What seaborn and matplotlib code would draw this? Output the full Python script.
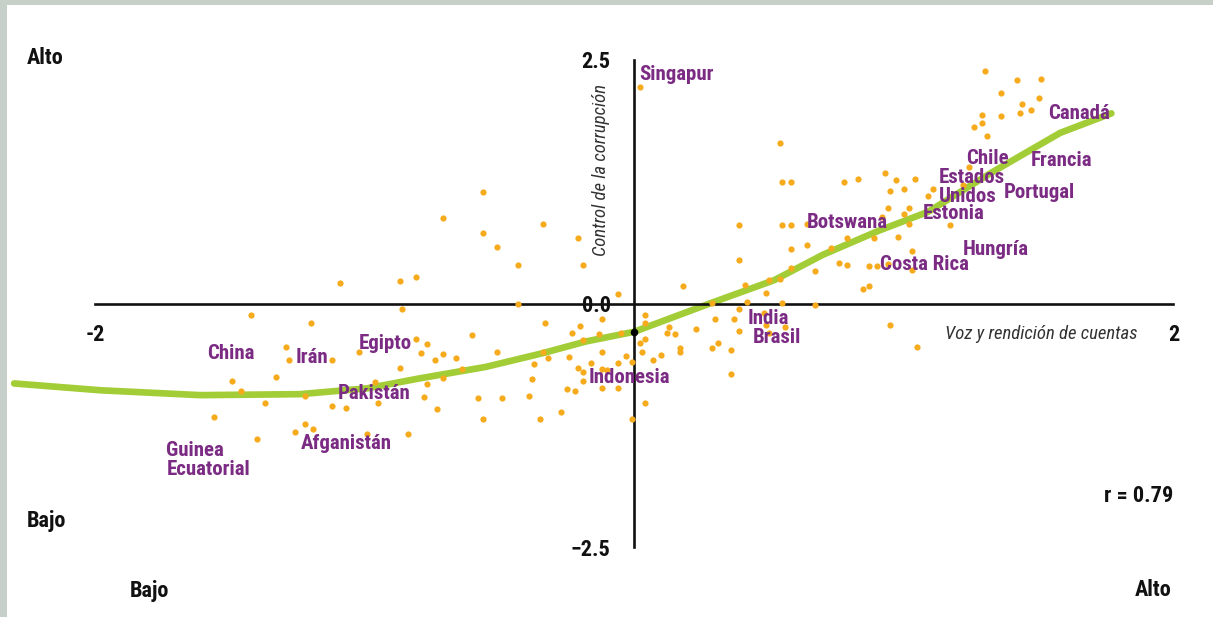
import matplotlib
matplotlib.use("Agg")
import matplotlib.pyplot as plt
from matplotlib import font_manager as fm
import pandas as pd
import seaborn as sns

# Voz y rendición de cuentas (x) frente a control de la corrupción (y), por país
voz = [
    -1.42, -1.20, -0.86, -1.29, -1.28, -1.12, -1.02, -0.81, -0.77, -0.79,
    -0.87, -1.49, -1.46, -1.33, -1.22, -1.37, -1.12, -1.07, -0.96, -0.95,
    -0.77, -0.78, -1.56, -1.22, -1.19, -1.26, -1.40, -0.99, -0.84,
    -1.09, -0.87, -0.81, -0.71, -0.56, -0.56, -0.51, -0.43, -0.34, -0.21,
    -0.19, -0.06, -0.43,
    -0.74, -0.71, -0.66, -0.60, -0.64, -0.71, -0.73, -0.58, -0.56, -0.49,
    -0.51, -0.33, -0.34, -0.32, -0.37, -0.38, -0.39, -0.35, -0.27, -0.25,
    -0.22, -0.24, -0.20, -0.23, -0.19, -0.12, -0.13, -0.12, -0.21, -0.19,
    -0.16, -0.12, -0.10, -0.19, -0.12, -0.06, -0.06, -0.05, -0.03, -0.01,
    -0.01, 0.04, 0.04, 0.02, 0.04, 0.03, 0.07, 0.04, 0.10,
    0.13, 0.12, 0.15, 0.17, 0.17, 0.23, 0.29, 0.31, 0.30, 0.36,
    0.36, 0.37, 0.39, 0.39, 0.42, 0.49, 0.50, 0.55, 0.67, 0.29,
    0.48, 0.56,
    0.54, 0.55, 0.58, 0.78, 0.83, 0.39, 0.55, 0.58, 0.64, 0.79,
    0.89, 0.39, 0.58, 0.64, 0.73, 0.76, 0.79, 0.87, 0.90, 0.58,
    0.67, 0.50, 0.54, 0.41, 0.18, 0.49, 0.85, 0.87,
    1.30, 1.42, 1.51, 1.36, 1.44, 1.50, 1.47, 1.43, 1.36, 1.29,
    1.29, 1.26, 1.31, 0.93, 0.97, 1.04, 0.95, 1.00, 1.11, 1.09,
    1.24, 1.22, 0.94, 1.00, 1.02, 1.02, 0.92, 0.98, 1.17, 1.03,
    1.03, 0.94, 0.95, 1.05, 0.02,
]
control = [
    -0.12, -0.20, -0.06, -0.45, -0.58, -0.58, -0.50, -0.36, -0.42, -0.51,
    -0.66, -0.79, -0.90, -0.75, -0.95, -1.02, -1.05, -1.07, -0.81, -1.02,
    -0.83, -0.96, -1.16, -1.24, -1.29, -1.32, -1.39, -1.34, -1.34,
    0.21, 0.23, 0.27, 0.88, 1.14, 0.72, 0.58, 0.39, 0.82, 0.67,
    0.39, 0.10, -0.01,
    -0.58, -0.52, -0.56, -0.32, -0.67, -0.76, -1.08, -0.97, -1.18, -0.97,
    -0.50, -0.20, -0.50, -0.56, -0.62, -0.77, -0.95, -1.18, -1.11, -0.88,
    -0.90, -0.55, -0.23, -0.30, -0.37, -0.16, -0.31, -0.50, -0.66, -0.70,
    -0.61, -0.67, -0.68, -0.79, -0.87, -0.87, -0.61, -0.30, -0.54, -0.60,
    -1.18, -0.12, -0.20, -0.40, -0.36, -0.50, -0.58, -1.02, -0.53,
    -0.24, -0.30, -0.31, -0.46, -0.50, -0.26, -0.46, -0.40, -0.16, -0.48,
    -0.72, -0.16, -0.28, -0.06, 0.02, -0.22, -0.30, 0.01, -0.02, 0.01,
    -0.10, -0.24,
    1.65, 1.25, 1.25, 1.25, 1.28, 0.81, 0.81, 0.81, 0.82, 0.67,
    0.67, 0.45, 0.56, 0.60, 0.57, 0.42, 0.39, 0.38, 0.38, 0.36,
    0.33, 0.24, 0.25, 0.19, 0.18, 0.11, 0.15, 0.18,
    2.38, 2.29, 2.30, 2.16, 2.05, 2.11, 1.98, 1.95, 1.92, 1.93,
    1.85, 1.81, 1.72, 1.34, 1.27, 1.28, 1.15, 1.17, 1.17, 1.10,
    1.40, 1.22, 0.98, 0.92, 0.98, 0.82, 0.89, 0.68, 0.81, 0.54,
    0.34, 0.41, -0.22, -0.45, 2.22,
]

# Curva de ajuste
curva_x = [-2.30, -1.98, -1.61, -1.24, -0.99, -0.80, -0.55, -0.34, -0.18,
           0.00, 0.29, 0.52, 0.70, 0.91, 1.09, 1.33, 1.58, 1.77]
curva_y = [-0.82, -0.89, -0.94, -0.93, -0.87, -0.77, -0.65, -0.51, -0.39,
           -0.29, 0.01, 0.24, 0.50, 0.75, 0.94, 1.35, 1.75, 1.95]

# Promedio marcado sobre el eje vertical
promedio_x = [0.0]
promedio_y = [-0.29]

# Países destacados (posición del rótulo)
paises = ["Singapur", "Canadá", "Chile", "Francia", "Estados\nUnidos", "Portugal",
          "Estonia", "Botswana", "Hungría", "Costa Rica", "India", "Brasil",
          "Indonesia", "China", "Irán", "Egipto", "Pakistán", "Afganistán",
          "Guinea\nEcuatorial"]
pais_x = [0.02, 1.535, 1.23, 1.47, 1.13, 1.37, 1.07, 0.64, 1.22, 0.91, 0.42, 0.44,
          -0.17, -1.585, -1.255, -1.02, -1.10, -1.235, -1.735]
pais_y = [2.35, 1.95, 1.49, 1.47, 1.195, 1.14, 0.92, 0.83, 0.55, 0.395, -0.15, -0.35,
          -0.76, -0.51, -0.55, -0.415, -0.92, -1.44, -1.61]

x_ticks = [-2, 2]
x_ticklabels = ["-2", "2"]
y_ticks = [-2.5, 0.0, 2.5]
y_ticklabels = ["\u22122.5", "0.0", "2.5"]

PURPLE = "#7b2b83"
ORANGE = "#f6ab1c"
GREEN = "#a3cd36"
FRAME = "#c6d0c9"
INK = "#111111"


def installed(name):
    try:
        fm.findfont(fm.FontProperties(family=name), fallback_to_default=False)
        return True
    except ValueError:
        return False


# Narrow faces first; wider faces get a smaller size so the words keep their length
family, k = "DejaVu Sans", 0.80
for name, scale in [("Roboto Condensed", 1.0), ("Liberation Sans Narrow", 1.0),
                    ("Open Sans Condensed", 1.0), ("DejaVu Sans Condensed", 0.90),
                    ("Roboto", 0.88), ("Liberation Sans", 0.86)]:
    if installed(name):
        family, k = name, scale
        break

sns.set_theme(style="white")
plt.rcParams["font.family"] = [family, "DejaVu Sans"]

W, H = 1213, 617
fig = plt.figure(figsize=(W / 100, H / 100), dpi=100, facecolor=FRAME)
ax = fig.add_axes([7 / W, 0, 1 - 7 / W, 1 - 5 / H])
ax.set_facecolor("white")

sx, x0 = 269.6, 634.2
sy, y0 = 97.5, 303.5
ax.set_xlim((7 - x0) / sx, (W - x0) / sx)
ax.set_ylim((y0 - H) / sy, (y0 - 5) / sy)

df_curva = pd.DataFrame({"x": curva_x, "y": curva_y})
sns.lineplot(data=df_curva, x="x", y="y", ax=ax, color=GREEN, lw=4.8,
             sort=False, estimator=None, solid_capstyle="round", zorder=2)

df = pd.DataFrame({"voz": voz, "control": control})
sns.scatterplot(data=df, x="voz", y="control", ax=ax, color=ORANGE, s=20,
                linewidth=0, zorder=3)
sns.scatterplot(x=promedio_x, y=promedio_y, ax=ax, color="black", s=30,
                linewidth=0, zorder=4)

# Ejes cruzados en el origen
for side in ["top", "right"]:
    ax.spines[side].set_visible(False)
for side in ["left", "bottom"]:
    ax.spines[side].set_position(("data", 0))
    ax.spines[side].set_color(INK)
    ax.spines[side].set_linewidth(1.9)
ax.spines["bottom"].set_bounds(-2, 2)
ax.spines["left"].set_bounds(-2.5, 2.5)

ax.set_xticks(x_ticks, labels=x_ticklabels)
ax.set_yticks(y_ticks, labels=y_ticklabels)
ax.tick_params(axis="x", direction="in", length=4, width=1.9, color=INK,
               pad=15, labelsize=16 * k, labelcolor=INK)
ax.tick_params(axis="y", direction="out", length=7, width=1.9, color=INK,
               pad=10, labelsize=16 * k, labelcolor=INK)
for lab in ax.get_xticklabels() + ax.get_yticklabels():
    lab.set_fontweight("bold")
ax.set_xlabel("")
ax.set_ylabel("")

ax.text(1.865, -0.31, "Voz y rendición de cuentas", ha="right", va="center",
        fontsize=13.5 * k, style="italic", color="#333333")
ax.text(-0.125, 1.37, "Control de la corrupción", ha="center", va="center",
        rotation=90, fontsize=13.5 * k, style="italic", color="#333333")

for nombre, px, py in zip(paises, pais_x, pais_y):
    ax.text(px, py, nombre, ha="left", va="center", fontsize=15 * k,
            fontweight="bold", color=PURPLE, linespacing=1.0, zorder=5)

corner = dict(va="center", fontsize=16 * k, fontweight="bold", color=INK)
fig.text(27 / W, 1 - 58 / H, "Alto", ha="left", **corner)
fig.text(27 / W, 1 - 521 / H, "Bajo", ha="left", **corner)
fig.text(130 / W, 1 - 591 / H, "Bajo", ha="left", **corner)
fig.text(1172 / W, 1 - 590 / H, "Alto", ha="right", **corner)
fig.text(1173 / W, 1 - 496 / H, "r = 0.79", ha="right", **corner)

fig.savefig("out.png", dpi=100, facecolor=FRAME)
